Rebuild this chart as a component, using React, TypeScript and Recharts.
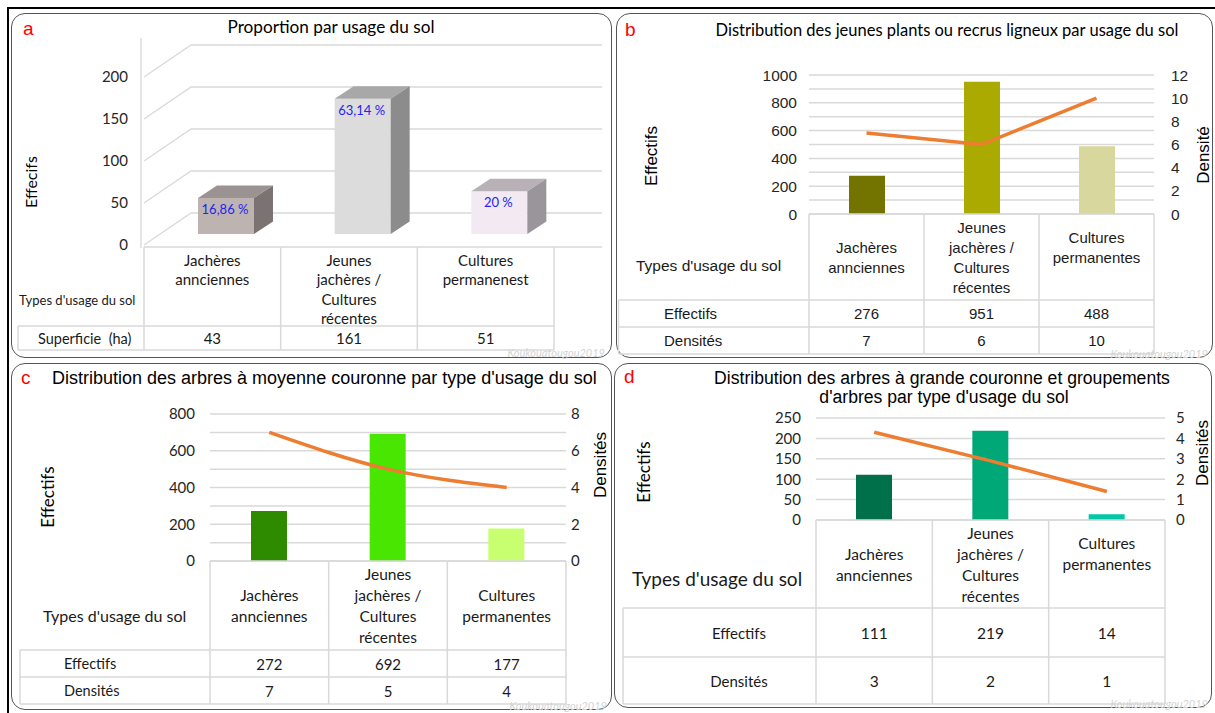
import React from 'react';
import { ComposedChart, BarChart, Bar, Line, XAxis, YAxis, CartesianGrid, Cell } from 'recharts';

const LATO = 'Lato, "Open Sans", sans-serif';
const ARIAL = '"Liberation Sans", Arial, sans-serif';
const ORANGE = '#ed7d31';
const GRID = '#d9d9d9';
const TABLE_LINE = '#d9d9d9';

// ---------- Panel a ----------
const categoriesA = ['Jachères\nannciennes', 'Jeunes\njachères /\nCultures\nrécentes', 'Cultures\npermanenest'];
const superficieA = [43, 161, 51];
const proportionLabelsA = ['16,86 %', '63,14 %', '20 %'];
const yTicksA = [0, 50, 100, 150, 200];

// ---------- Panels b, c, d ----------
const categories = ['Jachères\nannciennes', 'Jeunes\njachères /\nCultures\nrécentes', 'Cultures\npermanentes'];
const rowLabels = ['Effectifs', 'Densités'];

const effectifsB = [276, 951, 488];
const densitesB = [7, 6, 10];
const leftTicksB = [0, 100, 200, 300, 400, 500, 600, 700, 800, 900, 1000];
const leftLabelsB = [0, 200, 400, 600, 800, 1000];
const rightTicksB = [0, 2, 4, 6, 8, 10, 12];

const effectifsC = [272, 692, 177];
const densitesC = [7, 5, 4];
const leftTicksC = [0, 100, 200, 300, 400, 500, 600, 700, 800];
const leftLabelsC = [0, 200, 400, 600, 800];
const rightTicksC = [0, 2, 4, 6, 8];

const effectifsD = [111, 219, 14];
const densitesD = [3, 2, 1];
const densityLineD = [4.3, 2.9, 1.4];
const leftTicksD = [0, 50, 100, 150, 200, 250];
const rightTicksD = [0, 1, 2, 3, 4, 5];

const colorsB = ['#737300', '#aaaa00', '#d8d89e'];
const colorsC = ['#2e8b00', '#48e600', '#c8ff70'];
const colorsD = ['#00704a', '#00a878', '#00c8a8'];
const colorsA = [
  { front: '#bdb3b1', top: '#9b9391', side: '#7a7371' },
  { front: '#dcdcdc', top: '#a8a8a8', side: '#8c8c8c' },
  { front: '#f2e9f2', top: '#b8b2b8', side: '#9a959a' },
];

type TableCfg = {
  band: number;
  topOffset: number;
  topExtendRight: number;
  rowBottoms: number[];
  tableLeft: number;
  rowLabels: string[];
  rowValues: (number | string)[][];
  rowLabelX: number;
  rowLabelAnchor: 'start' | 'middle' | 'end';
  rowFont: string;
  rowSize: number;
  catFont: string;
  catSize: number;
  lineH: number;
  catAlign: 'center' | 'top';
  catTop: number;
  catShift: number[];
  valueFont: string;
  valueSize: number;
  typesX: number;
  typesDy: number;
  typesSize: number;
  typesFont: string;
};

function TableTick(props: any) {
  const { x, y, payload, cfg } = props as { x: number; y: number; payload: any; cfg: TableCfg };
  const i: number = payload.index ?? props.index ?? 0;
  const n = cfg.rowValues[0].length;
  const left = x - cfg.band / 2;
  const right = x + cfg.band / 2;
  const yTop = y + cfg.topOffset;
  const rb = cfg.rowBottoms;
  const bottom = y + rb[rb.length - 1];
  const lines = String(payload.value).split('\n');
  const headerH = rb[0];
  const startY =
    cfg.catAlign === 'top'
      ? y + cfg.catTop
      : y + headerH / 2 - ((lines.length - 1) * cfg.lineH) / 2 + (cfg.catShift[i] || 0);
  const els: React.ReactNode[] = [];
  els.push(<line key="vl" x1={left} x2={left} y1={yTop} y2={bottom} stroke={TABLE_LINE} strokeWidth={1.5} />);
  if (i === n - 1) {
    els.push(<line key="vr" x1={right} x2={right} y1={yTop} y2={bottom} stroke={TABLE_LINE} strokeWidth={1.5} />);
  }
  els.push(
    <line key="top" x1={left} x2={i === n - 1 ? right + cfg.topExtendRight : right} y1={yTop} y2={yTop} stroke={TABLE_LINE} strokeWidth={1.5} />
  );
  rb.forEach((b, k) => {
    els.push(<line key={'h' + k} x1={left} x2={right} y1={y + b} y2={y + b} stroke={TABLE_LINE} strokeWidth={1.5} />);
  });
  lines.forEach((ln, k) => {
    els.push(
      <text key={'c' + k} x={x} y={startY + k * cfg.lineH} textAnchor="middle" dominantBaseline="central"
        fontFamily={cfg.catFont} fontSize={cfg.catSize} fill="#1a1a1a">{ln}</text>
    );
  });
  cfg.rowValues.forEach((vals, r) => {
    const cy = y + (rb[r] + rb[r + 1]) / 2;
    els.push(
      <text key={'v' + r} x={x} y={cy} textAnchor="middle" dominantBaseline="central"
        fontFamily={cfg.valueFont} fontSize={cfg.valueSize} fill="#1a1a1a">{String(vals[i])}</text>
    );
  });
  if (i === 0) {
    els.push(<line key="rl" x1={cfg.tableLeft} x2={cfg.tableLeft} y1={y + rb[0]} y2={bottom} stroke={TABLE_LINE} strokeWidth={1.5} />);
    rb.forEach((b, k) => {
      els.push(<line key={'rh' + k} x1={cfg.tableLeft} x2={left} y1={y + b} y2={y + b} stroke={TABLE_LINE} strokeWidth={1.5} />);
    });
    cfg.rowLabels.forEach((lab, r) => {
      const cy = y + (rb[r] + rb[r + 1]) / 2;
      els.push(
        <text key={'rlab' + r} x={cfg.rowLabelX} y={cy} textAnchor={cfg.rowLabelAnchor} dominantBaseline="central"
          fontFamily={cfg.rowFont} fontSize={cfg.rowSize} fill="#1a1a1a" style={{ whiteSpace: 'pre' }}>{lab}</text>
      );
    });
    els.push(
      <text key="types" x={cfg.typesX} y={y + cfg.typesDy} textAnchor="start" dominantBaseline="central"
        fontFamily={cfg.typesFont} fontSize={cfg.typesSize} fill="#1a1a1a">Types d'usage du sol</text>
    );
  }
  return <g>{els}</g>;
}

type ComboCfg = {
  x: number; y: number; w: number; h: number;
  plot: { left: number; right: number; top: number; bottom: number };
  effectifs: number[];
  densTable: number[];
  densLine: number[];
  colors: string[];
  leftTicks: number[];
  leftLabels: number[];
  rightTicks: number[];
  leftGap: number;
  rightGap: number;
  tickFont: string;
  tickSize: number;
  lineType: 'linear' | 'monotone';
  table: Omit<TableCfg, 'band' | 'rowLabels' | 'rowValues'>;
};

function ComboPanel({ p }: { p: ComboCfg }) {
  const data = categories.map((name, i) => ({ name, eff: p.effectifs[i], dens: p.densLine[i] }));
  const band = (p.plot.right - p.plot.left) / categories.length;
  const margin = { top: p.plot.top, left: p.plot.left - 60, right: p.w - p.plot.right - 40, bottom: 0 };
  const cfg: TableCfg = { ...p.table, band, rowLabels, rowValues: [p.effectifs, p.densTable] };
  const tickStyle = { fill: '#262626', fontSize: p.tickSize, fontFamily: p.tickFont };
  return (
    <div style={{ position: 'absolute', left: p.x, top: p.y }}>
      <ComposedChart width={p.w} height={p.h} data={data} margin={margin}>
        <CartesianGrid vertical={false} stroke={GRID} strokeWidth={1.5} />
        <XAxis dataKey="name" axisLine={false} tickLine={false} tickSize={0} tickMargin={0} interval={0}
          height={p.h - p.plot.bottom} tick={(tp: any) => <TableTick {...tp} cfg={cfg} />} />
        <YAxis domain={[0, p.leftTicks[p.leftTicks.length - 1]]} ticks={p.leftTicks} interval={0} width={60}
          axisLine={false} tickLine={false} tickSize={0} tickMargin={p.leftGap} tick={tickStyle}
          tickFormatter={(v: number) => (p.leftLabels.includes(v) ? String(v) : '')} />
        <YAxis yAxisId="right" orientation="right" domain={[0, p.rightTicks[p.rightTicks.length - 1]]}
          ticks={p.rightTicks} interval={0} width={40} axisLine={false} tickLine={false} tickSize={0}
          tickMargin={p.rightGap} tick={tickStyle} />
        <Bar dataKey="eff" barSize={36} isAnimationActive={false}>
          {p.colors.map((c, i) => <Cell key={i} fill={c} />)}
        </Bar>
        <Line yAxisId="right" dataKey="dens" type={p.lineType} stroke={ORANGE} strokeWidth={3.5}
          dot={false} activeDot={false} isAnimationActive={false} />
      </ComposedChart>
    </div>
  );
}

function Bar3D(props: any) {
  const { x, y, width, height, payload } = props;
  const idx = props.index ?? 0;
  const c = colorsA[idx] || colorsA[0];
  const fx = x + 14, fy = y - 11, w = width, h = height;
  const dx = 19, dy = -12.5;
  return (
    <g>
      <rect x={fx} y={fy} width={w} height={h} fill={c.front} />
      <polygon points={`${fx},${fy} ${fx + dx},${fy + dy} ${fx + w + dx},${fy + dy} ${fx + w},${fy}`} fill={c.top} />
      <polygon points={`${fx + w},${fy} ${fx + w + dx},${fy + dy} ${fx + w + dx},${fy + h + dy} ${fx + w},${fy + h}`} fill={c.side} />
      <text x={fx + w / 2 - 1} y={fy + 11} textAnchor="middle" dominantBaseline="central" fill="#2323f0"
        fontFamily={LATO} fontSize={13}>{payload.label}</text>
    </g>
  );
}

function gridA(gp: any) {
  const { x1, y1, x2 } = gp;
  return (
    <g key={'g' + y1}>
      <path d={`M${x1},${y1} L${x1 + 47},${y1 - 32} L${x2 + 48},${y1 - 32}`}
        stroke={GRID} strokeWidth={1.3} fill="none" />
      <line x1={x1 - 3} x2={x1 - 3} y1={y1 + 3} y2={y1 - 39} stroke={GRID} strokeWidth={1.3} />
    </g>
  );
}

function PanelA() {
  const W = 601, H = 345;
  const plot = { left: 133, right: 543, top: 64, bottom: 232 };
  const data = categoriesA.map((name, i) => ({ name, value: superficieA[i], label: proportionLabelsA[i] }));
  const band = (plot.right - plot.left) / categoriesA.length;
  const cfg: TableCfg = {
    band, topOffset: 2, topExtendRight: 48, rowBottoms: [81, 105], tableLeft: 7,
    rowLabels: ['Superficie  (ha)'], rowValues: [superficieA], rowLabelX: 27, rowLabelAnchor: 'start',
    rowFont: LATO, rowSize: 14.5, catFont: LATO, catSize: 15, lineH: 19.3, catAlign: 'top', catTop: 15,
    catShift: [0, 0, 0], valueFont: LATO, valueSize: 15, typesX: 8, typesDy: 55, typesSize: 13, typesFont: LATO,
  };
  return (
    <div style={{ position: 'absolute', left: 11, top: 13 }}>
      <BarChart width={W} height={H} data={data}
        margin={{ top: plot.top, left: plot.left - 60, right: W - plot.right, bottom: 0 }}>
        <CartesianGrid vertical={false} horizontal={gridA as any} />
        <XAxis dataKey="name" axisLine={false} tickLine={false} tickSize={0} tickMargin={0} interval={0}
          height={H - plot.bottom} tick={(tp: any) => <TableTick {...tp} cfg={cfg} />} />
        <YAxis domain={[0, 200]} ticks={yTicksA} interval={0} width={60} axisLine={false}
          tickLine={false} tickSize={0} tickMargin={16}
          tick={{ fill: '#262626', fontSize: 15, fontFamily: LATO }} />
        <Bar dataKey="value" barSize={56} shape={Bar3D} isAnimationActive={false} />
      </BarChart>
    </div>
  );
}

const panelB: ComboCfg = {
  x: 616, y: 13, w: 597, h: 345,
  plot: { left: 193, right: 538, top: 62, bottom: 201 },
  effectifs: effectifsB, densTable: densitesB, densLine: densitesB, colors: colorsB,
  leftTicks: leftTicksB, leftLabels: leftLabelsB, rightTicks: rightTicksB,
  leftGap: 12, rightGap: 17, tickFont: ARIAL, tickSize: 15.5, lineType: 'linear',
  table: {
    topOffset: 0, topExtendRight: 0, rowBottoms: [86, 113, 140], tableLeft: 2.5, rowLabelX: 48,
    rowLabelAnchor: 'start', rowFont: ARIAL, rowSize: 15, catFont: ARIAL, catSize: 15, lineH: 20,
    catAlign: 'center', catTop: 0, catShift: [0, 0, -10], valueFont: ARIAL, valueSize: 15,
    typesX: 20, typesDy: 51, typesSize: 15.5, typesFont: ARIAL,
  },
};

const panelC: ComboCfg = {
  x: 11, y: 363, w: 601, h: 347,
  plot: { left: 199, right: 555, top: 51, bottom: 198 },
  effectifs: effectifsC, densTable: densitesC, densLine: densitesC, colors: colorsC,
  leftTicks: leftTicksC, leftLabels: leftLabelsC, rightTicks: rightTicksC,
  leftGap: 15, rightGap: 5, tickFont: LATO, tickSize: 15, lineType: 'monotone',
  table: {
    topOffset: 0, topExtendRight: 0, rowBottoms: [89, 116, 143], tableLeft: 9, rowLabelX: 53,
    rowLabelAnchor: 'start', rowFont: LATO, rowSize: 14.5, catFont: LATO, catSize: 15.5, lineH: 21,
    catAlign: 'center', catTop: 0, catShift: [0, 0, 0], valueFont: LATO, valueSize: 15,
    typesX: 32, typesDy: 54, typesSize: 16, typesFont: LATO,
  },
};

const panelD: ComboCfg = {
  x: 614, y: 363, w: 598, h: 345,
  plot: { left: 202, right: 551, top: 55, bottom: 157 },
  effectifs: effectifsD, densTable: densitesD, densLine: densityLineD, colors: colorsD,
  leftTicks: leftTicksD, leftLabels: leftTicksD, rightTicks: rightTicksD,
  leftGap: 15, rightGap: 11, tickFont: LATO, tickSize: 15, lineType: 'linear',
  table: {
    topOffset: 0, topExtendRight: 0, rowBottoms: [88, 137, 184], tableLeft: 9, rowLabelX: 125,
    rowLabelAnchor: 'middle', rowFont: LATO, rowSize: 15, catFont: LATO, catSize: 15.5, lineH: 21,
    catAlign: 'center', catTop: 0, catShift: [0, 0, -10.5], valueFont: LATO, valueSize: 15.5,
    typesX: 18, typesDy: 58, typesSize: 19, typesFont: LATO,
  },
};

const panelBoxes = [
  { left: 11, top: 13, width: 601, height: 345 },
  { left: 616, top: 13, width: 597, height: 345 },
  { left: 11, top: 363, width: 601, height: 347 },
  { left: 614, top: 363, width: 598, height: 345 },
];

function Rot({ x, y, text, font, size }: { x: number; y: number; text: string; font: string; size: number }) {
  return (
    <text transform={`translate(${x},${y}) rotate(-90)`} textAnchor="middle" dominantBaseline="central"
      fontFamily={font} fontSize={size} fill="#000">{text}</text>
  );
}

function Watermark({ x, y }: { x: number; y: number }) {
  return (
    <text x={x} y={y} textAnchor="end" dominantBaseline="central" fontFamily={LATO} fontSize={11}
      fontStyle="italic" fill="#d4d4d4">Koukouatougou2019</text>
  );
}

export default function App() {
  return (
    <div style={{ position: 'absolute', left: 0, top: 0, width: 1215, height: 713, background: '#fff', overflow: 'hidden' }}>
      <div style={{ position: 'absolute', left: 6.5, top: 6.5, width: 1240, height: 740, borderTop: '2.2px solid #000', borderLeft: '2.2px solid #000' }} />
      {panelBoxes.map((b, i) => (
        <div key={i} style={{ position: 'absolute', left: b.left, top: b.top, width: b.width, height: b.height,
          border: '1.6px solid #555', borderRadius: 14, boxSizing: 'border-box', background: '#fff' }} />
      ))}
      <PanelA />
      <ComboPanel p={panelB} />
      <ComboPanel p={panelC} />
      <ComboPanel p={panelD} />
      <svg width={1215} height={713} style={{ position: 'absolute', left: 0, top: 0, pointerEvents: 'none' }}>
        <text x={23} y={35} fontFamily={ARIAL} fontSize={19} fill="#ff0000">a</text>
        <text x={331} y={26} textAnchor="middle" dominantBaseline="central" fontFamily={LATO} fontSize={17.2} fill="#000">Proportion par usage du sol</text>
        <text x={625} y={36} fontFamily={ARIAL} fontSize={19} fill="#ff0000">b</text>
        <text x={947} y={30} textAnchor="middle" dominantBaseline="central" fontFamily={LATO} fontSize={16.5} fill="#000">Distribution des jeunes plants ou recrus ligneux par usage du sol</text>
        <text x={21} y={384} fontFamily={ARIAL} fontSize={19} fill="#ff0000">c</text>
        <text x={52} y={378} dominantBaseline="central" fontFamily={ARIAL} fontSize={18} fill="#000">Distribution des arbres à moyenne couronne par type d'usage du sol</text>
        <text x={624} y={383} fontFamily={ARIAL} fontSize={19} fill="#ff0000">d</text>
        <text x={942} y={378} textAnchor="middle" dominantBaseline="central" fontFamily={ARIAL} fontSize={17.6} fill="#000">Distribution des arbres à grande couronne et groupements</text>
        <text x={944} y={397} textAnchor="middle" dominantBaseline="central" fontFamily={ARIAL} fontSize={17.6} fill="#000">d'arbres par type d'usage du sol</text>
        <Rot x={30} y={182} text="Effecifs" font={LATO} size={16} />
        <Rot x={651} y={156} text="Effectifs" font={ARIAL} size={17} />
        <Rot x={1203} y={155} text="Densité" font={ARIAL} size={17} />
        <Rot x={47} y={497} text="Effectifs" font={LATO} size={17} />
        <Rot x={600} y={465} text="Densités" font={ARIAL} size={17} />
        <Rot x={643} y={472} text="Effectifs" font={LATO} size={17} />
        <Rot x={1202} y={453} text="Densités" font={ARIAL} size={17} />
        <Watermark x={605} y={352} />
        <Watermark x={1208} y={353} />
        <Watermark x={607} y={705} />
        <Watermark x={1208} y={703} />
      </svg>
    </div>
  );
}
